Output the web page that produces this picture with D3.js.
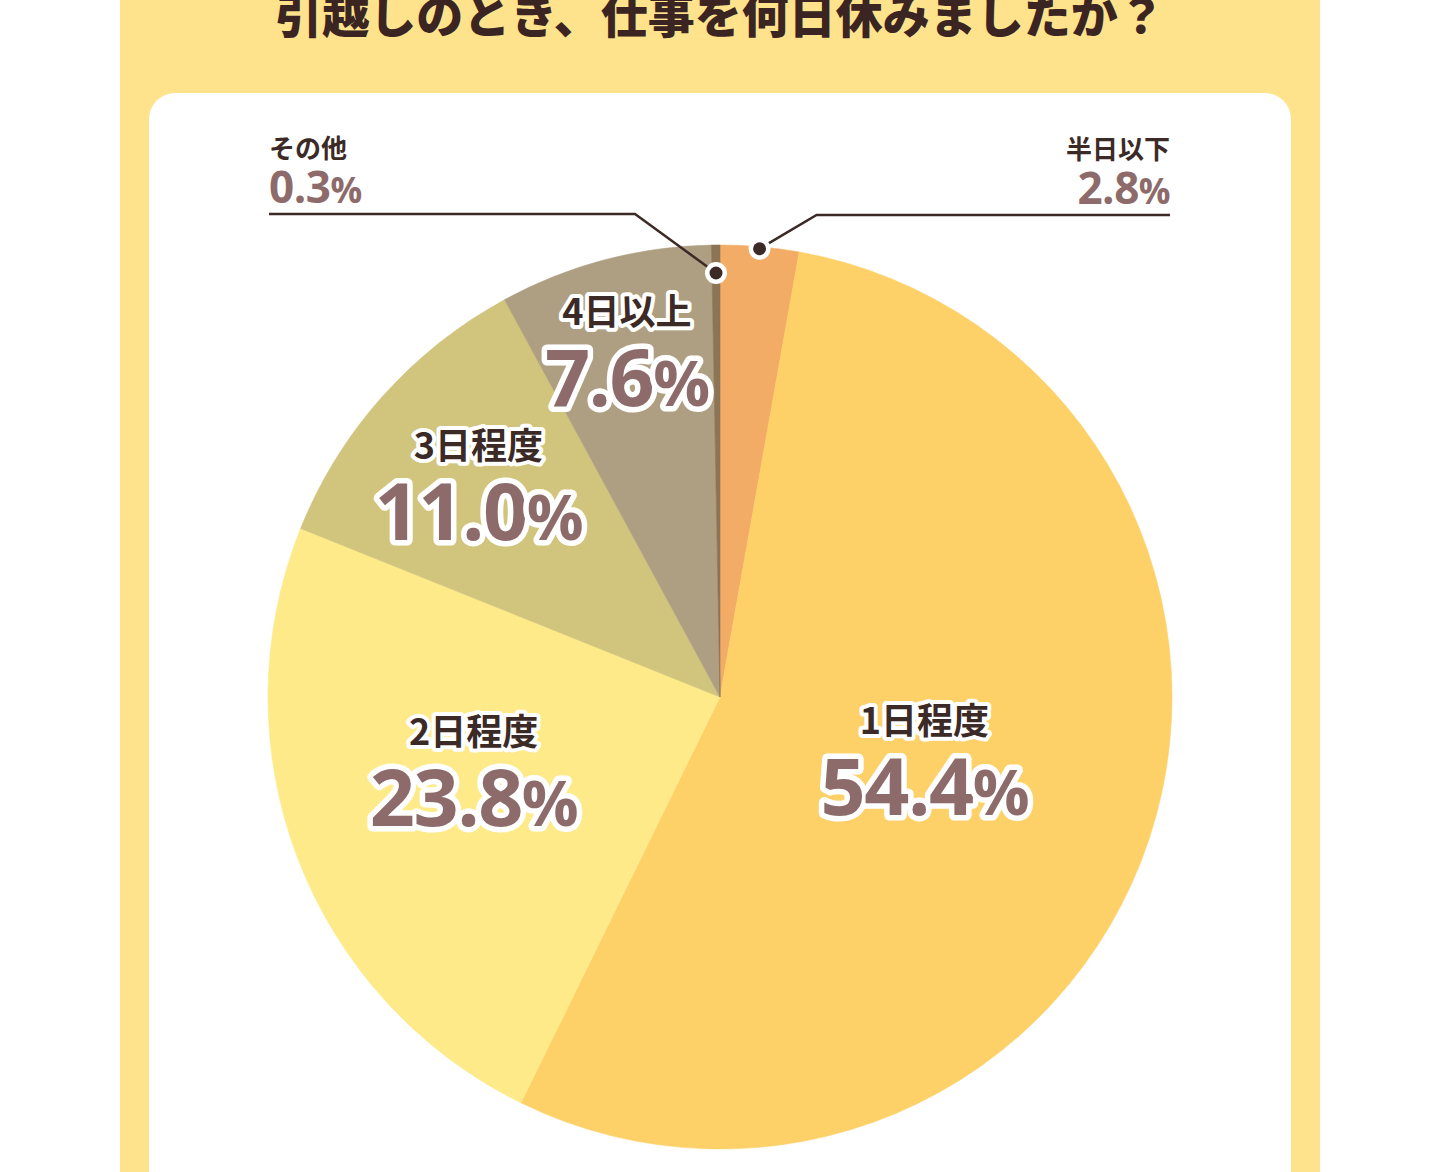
<!DOCTYPE html>
<html>
<head>
<meta charset="utf-8">
<script src="https://cdn.jsdelivr.net/npm/d3@7"></script>
<style>
  html, body { margin: 0; padding: 0; background: #fff; }
  svg { display: block; }
</style>
</head>
<body>
<svg id="chart"></svg>
<script>
// data
const titleText = "引越しのとき、仕事を何日休みましたか？";
const categories = ["半日以下", "1日程度", "2日程度", "3日程度", "4日以上", "その他"];
const values = [2.8, 54.4, 23.8, 11.0, 7.6, 0.3];
const outsideLabels = ["半日以下", "その他"];

// slice colours, same order as categories
const palette = ["#F3AC66", "#FDD068", "#FEEA88", "#D1C47D", "#AF9F82", "#8C7457"];

const width = 1440, height = 1172;
const cx = 720, cy = 697, radius = 452;

// where the labels inside the slices sit: distance from centre + small nudge
const innerLabelPos = {
  "1日程度": { r: 215, dx: 0, dy: 11 },
  "2日程度": { r: 264, dx: 0, dy: -6 },
  "3日程度": { r: 317, dx: -5, dy: 14 },
  "4日以上": { r: 342, dx: -6, dy: 0 }
};
// leader lines for the thin slices
const leader = {
  "半日以下": { r: 450, lineY: 215, elbowDx: 57, endX: 1170, anchor: "end" },
  "その他":   { r: 424, lineY: 214, elbowDx: -81, endX: 269, anchor: "start" }
};

const darkText = "#3B2A25";
const pctColor = "#8E6B6B";
const jpFont = "'Noto Sans CJK JP', 'Noto Sans', sans-serif";
const numFont = "'Open Sans', 'Noto Sans', sans-serif";

const svg = d3.select("#chart")
    .attr("width", width)
    .attr("height", height);

// background panels
svg.append("rect")
    .attr("x", 120).attr("y", 0)
    .attr("width", 1200).attr("height", height)
    .attr("fill", "#FEE38C");

svg.append("rect")
    .attr("x", 149).attr("y", 93)
    .attr("width", 1142).attr("height", 1200)
    .attr("rx", 26).attr("ry", 26)
    .attr("fill", "#fff");

// title (top is cut off in the original)
svg.append("text")
    .attr("x", cx).attr("y", 33)
    .attr("text-anchor", "middle")
    .attr("font-family", jpFont)
    .attr("font-weight", 900)
    .attr("font-size", 47)
    .attr("fill", "#3A2522")
    .text(titleText);

const color = d3.scaleOrdinal().domain(categories).range(palette);

const pie = d3.pie().sort(null).value(d => d.value);
const arcs = pie(categories.map((c, i) => ({ cat: c, value: values[i] })));

const arcGen = d3.arc().innerRadius(0).outerRadius(radius);

const chart = svg.append("g").attr("transform", `translate(${cx},${cy})`);

chart.selectAll("path.slice")
  .data(arcs)
  .join("path")
    .attr("class", "slice")
    .attr("d", arcGen)
    .attr("fill", d => color(d.data.cat))
    .attr("stroke", d => color(d.data.cat))
    .attr("stroke-width", 0.6);

function polar(angle, r) {
  return [r * Math.sin(angle), -r * Math.cos(angle)];
}

function addPct(sel, value, size) {
  sel.append("tspan").text(value.toFixed(1));
  sel.append("tspan").attr("font-size", size * 0.8).text("%");
}

// labels inside the big slices
const inner = arcs.filter(d => !outsideLabels.includes(d.data.cat));
inner.forEach(d => {
  const p = innerLabelPos[d.data.cat];
  const mid = (d.startAngle + d.endAngle) / 2;
  const [x, y] = polar(mid, p.r);
  const g = chart.append("g").attr("transform", `translate(${x + p.dx},${y + p.dy})`);

  g.append("text")
      .attr("y", -41)
      .attr("text-anchor", "middle")
      .attr("font-family", jpFont)
      .attr("font-weight", 700)
      .attr("font-size", 36)
      .attr("fill", darkText)
      .attr("stroke", "#fff")
      .attr("stroke-width", 8)
      .attr("stroke-linejoin", "round")
      .attr("paint-order", "stroke")
      .text(d.data.cat);

  const t = g.append("text")
      .attr("y", 40)
      .attr("text-anchor", "middle")
      .attr("font-family", numFont)
      .attr("font-weight", 700)
      .attr("font-size", 79)
      .attr("letter-spacing", -1.5)
      .attr("fill", pctColor)
      .attr("stroke", "#fff")
      .attr("stroke-width", 11)
      .attr("stroke-linejoin", "round")
      .attr("paint-order", "stroke");
  addPct(t, d.data.value, 79);
});

// leader-line labels for the thin slices
const outer = arcs.filter(d => outsideLabels.includes(d.data.cat));
outer.forEach(d => {
  const L = leader[d.data.cat];
  const mid = (d.startAngle + d.endAngle) / 2;
  const [px, py] = polar(mid, L.r);
  const ly = L.lineY - cy;
  const ex = L.endX - cx;

  chart.append("path")
      .attr("d", d3.line()([[px, py], [px + L.elbowDx, ly], [ex, ly]]))
      .attr("fill", "none")
      .attr("stroke", darkText)
      .attr("stroke-width", 2.5);

  chart.append("circle")
      .attr("cx", px).attr("cy", py).attr("r", 11)
      .attr("fill", "#fff");
  chart.append("circle")
      .attr("cx", px).attr("cy", py).attr("r", 6.5)
      .attr("fill", darkText);

  chart.append("text")
      .attr("x", ex).attr("y", ly - 56)
      .attr("text-anchor", L.anchor)
      .attr("font-family", jpFont)
      .attr("font-weight", 700)
      .attr("font-size", 26)
      .attr("fill", darkText)
      .text(d.data.cat);

  const t = chart.append("text")
      .attr("x", ex).attr("y", ly - 11)
      .attr("text-anchor", L.anchor)
      .attr("font-family", numFont)
      .attr("font-weight", 700)
      .attr("font-size", 44)
      .attr("letter-spacing", -0.5)
      .attr("fill", pctColor);
  addPct(t, d.data.value, 44);
});
</script>
</body>
</html>
